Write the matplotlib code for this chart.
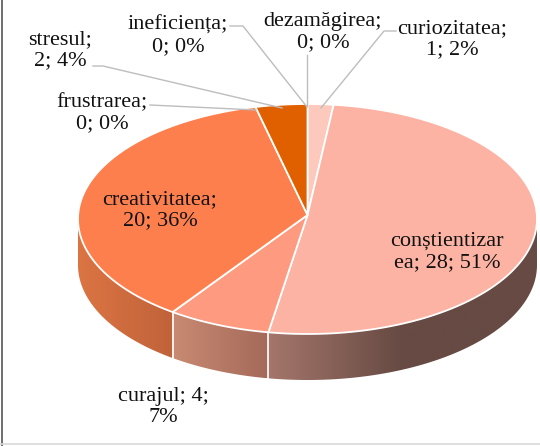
#!/usr/bin/env python3
import matplotlib

matplotlib.use("Agg")
import matplotlib.pyplot as plt
import numpy as np
from matplotlib.colors import LinearSegmentedColormap
from matplotlib.patches import Polygon

categories = ["curiozitatea", "conștientizarea", "curajul", "creativitatea",
              "frustrarea", "stresul", "ineficiența", "dezamăgirea"]
values = [1, 28, 4, 20, 0, 2, 0, 0]
top_colors = ["#fcc9bc", "#fdb3a3", "#fd9a80", "#fd7f4d",
              "#e8764a", "#e06000", "#e06000", "#e06000"]
# side wall gradient stops, left to right
side_colors = {1: ["#a5766b", "#664a43", "#664a43"], 2: ["#c88a72", "#a5695a"], 3: ["#dc7443", "#c0633a"]}
label_lines = {
    "curiozitatea": "curiozitatea;\n{v}; {p}%",
    "conștientizarea": "conștientizar\nea; {v}; {p}%",
    "curajul": "curajul; {v};\n{p}%",
    "creativitatea": "creativitatea;\n{v}; {p}%",
    "frustrarea": "frustrarea;\n{v}; {p}%",
    "stresul": "stresul;\n{v}; {p}%",
    "ineficiența": "ineficiența;\n{v}; {p}%",
    "dezamăgirea": "dezamăgirea;\n{v}; {p}%",
}
label_pos = {
    "curiozitatea": (452, 39), "conștientizarea": (447, 252), "curajul": (163, 407),
    "creativitatea": (160, 210), "frustrarea": (102, 113), "stresul": (60, 50),
    "ineficiența": (178, 36), "dezamăgirea": (323, 32),
}
leaders = [
    [(396, 31), (384, 31), (321, 108)],
    [(307, 55), (307, 106)],
    [(230, 26), (243, 26), (307, 107)],
    [(93, 66), (103, 66), (282, 108)],
    [(150, 105), (256, 110)],
]

CX, CY, RX, RY, DEPTH = 307.5, 219, 229.5, 115, 46


def rim(frac0, frac1, n=200):
    t = np.linspace(frac0, frac1, n) * 2 * np.pi
    return CX + RX * np.sin(t), CY - RY * np.cos(t)


fig = plt.figure(figsize=(5.4, 4.46), dpi=100)
ax = fig.add_axes([0, 0, 1, 1])
ax.axis("off")

total = sum(values)
edges = np.cumsum([0] + values) / total

# side wall first
for i, stops in side_colors.items():
    # wall is only visible on the lower half of the ellipse
    f0, f1 = max(edges[i], 0.25), min(edges[i + 1], 0.75)
    xs, ys = rim(f0, f1)
    pts = np.vstack([np.column_stack([xs, ys]), np.column_stack([xs[::-1], ys[::-1] + DEPTH])])
    poly = Polygon(pts, closed=True, facecolor="none", edgecolor="none")
    ax.add_patch(poly)
    cmap = LinearSegmentedColormap.from_list("wall", stops)
    grad = np.linspace(0, 1, 256).reshape(1, -1)
    im = ax.imshow(grad, cmap=cmap, extent=(xs.min(), xs.max(), ys.max() + DEPTH, ys.min()),
                   aspect="auto", zorder=1)
    im.set_clip_path(poly)
    if edges[i] > 0.25:
        ax.plot([xs[0], xs[0]], [ys[0], ys[0] + DEPTH], color="white", lw=1.2, zorder=3)
ax.set_xlim(0, 540)
ax.set_ylim(446, 0)

# top face
for i, v in enumerate(values):
    if v == 0:
        continue
    xs, ys = rim(edges[i], edges[i + 1])
    pts = np.vstack([[CX, CY - 4], np.column_stack([xs, ys])])
    ax.add_patch(Polygon(pts, closed=True, facecolor=top_colors[i], edgecolor="white", lw=1.3, zorder=4))

for path in leaders:
    px, py = zip(*path)
    ax.plot(px, py, color="#bdbdbd", lw=1.0, zorder=5)

for name, v in zip(categories, values):
    p = round(v / total * 100)
    x, y = label_pos[name]
    ax.text(x, y, label_lines[name].format(v=v, p=p), ha="center", va="center",
            family="Liberation Serif", fontsize=16, color="#111111", linespacing=1.17, zorder=6)

# outer frame remains of the screenshot
ax.plot([1.5, 1.5], [0, 446], color="#555555", lw=1.2, zorder=7)
ax.plot([0, 540], [443.5, 443.5], color="#d9d9d9", lw=1.2, zorder=7)

fig.savefig("out.png", dpi=100)
